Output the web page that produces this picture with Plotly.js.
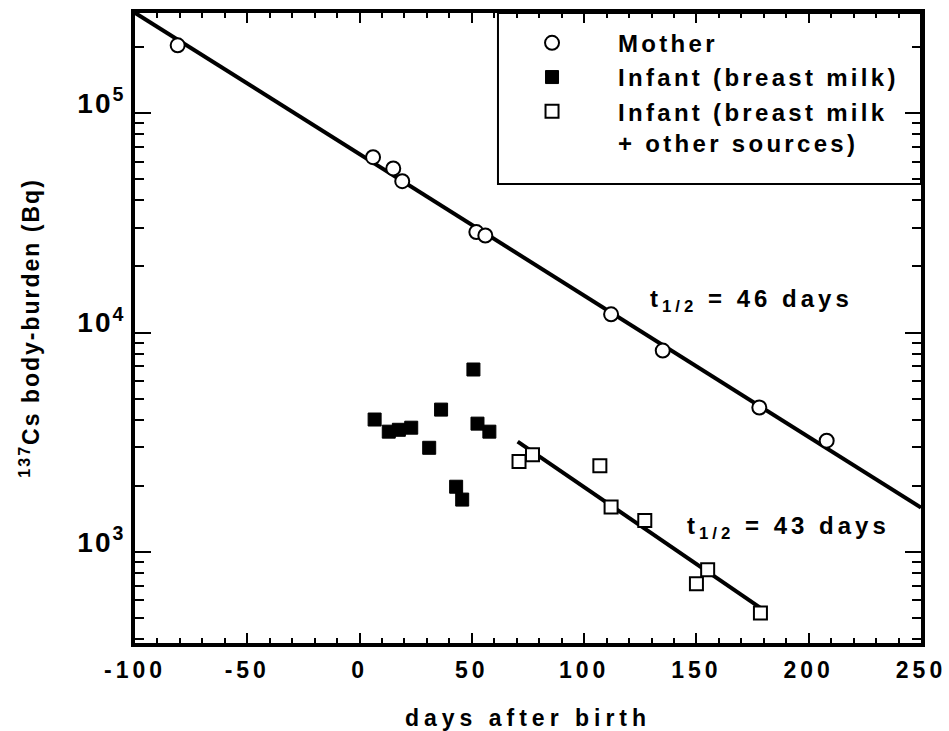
<!DOCTYPE html>
<html>
<head>
<meta charset="utf-8">
<script src="https://cdn.plot.ly/plotly-3.0.1.min.js"></script>
<style>
  body { margin: 0; background: #fff; }
  #chart { width: 949px; height: 731px; }
  .xtick text { letter-spacing: 4px; }
  .ytick text { letter-spacing: 2px; }
  .g-xtitle text { letter-spacing: 5px; }
  .g-ytitle text { letter-spacing: 2px; }
  .legendtext { letter-spacing: 3.3px; }
  .annotation-text { letter-spacing: 4px; }
</style>
</head>
<body>
<div id="chart"></div>
<script>
// ---- data ----
const motherDays = [-81, 6, 15, 19, 52, 56, 112, 135, 178, 208];
const motherBq   = [204000, 63000, 56000, 49000, 28700, 27700, 12100, 8270, 4550, 3210];

const infantMilkDays = [6.7, 13, 17.5, 23, 31, 36.3, 43, 45.7, 50.7, 52.5, 57.8];
const infantMilkBq   = [4010, 3530, 3600, 3680, 2980, 4450, 1980, 1730, 6780, 3840, 3530];

const infantOtherDays = [71, 77, 107, 112, 127, 150, 155, 178.5];
const infantOtherBq   = [2580, 2770, 2470, 1600, 1390, 714, 828, 526];

const motherFitDays = [-100, 250];
const motherFitBq   = [287000, 1590];
const infantFitDays = [70.4, 178.5];
const infantFitBq   = [3180, 555];

const xTickVals = [-100, -50, 0, 50, 100, 150, 200, 250];
const xTickText = ['-100', '-50', '0', '50', '100', '150', '200', '250'];
const yTickVals = [1e3, 1e4, 1e5];
const yTickText = ['10<sup>3</sup>', '10<sup>4</sup>', '10<sup>5</sup>'];

const legendNames = ['Mother', 'Infant (breast milk)', 'Infant (breast milk<br>+ other sources)'];
const halfLifeLabels = ['t<sub>1/2</sub> = 46 days', 't<sub>1/2</sub> = 43 days'];

// minor log ticks 2..9 per decade
const yMinor = [];
[100, 1000, 10000, 100000].forEach(d => { for (let k = 2; k <= 9; k++) yMinor.push(k * d); });

const FONT = 'Liberation Sans, Arial, Helvetica, sans-serif';

const traces = [
  { x: motherFitDays, y: motherFitBq, mode: 'lines', line: {color: '#000', width: 4}, showlegend: false, hoverinfo: 'skip' },
  { x: infantFitDays, y: infantFitBq, mode: 'lines', line: {color: '#000', width: 4}, showlegend: false, hoverinfo: 'skip' },
  { x: motherDays, y: motherBq, mode: 'markers', name: legendNames[0],
    marker: {symbol: 'circle', size: 14, color: '#fff', line: {color: '#000', width: 2}} },
  { x: infantMilkDays, y: infantMilkBq, mode: 'markers', name: legendNames[1],
    marker: {symbol: 'square', size: 13, color: '#000', line: {color: '#000', width: 1}} },
  { x: infantOtherDays, y: infantOtherBq, mode: 'markers', name: legendNames[2],
    marker: {symbol: 'square', size: 13, color: '#fff', line: {color: '#000', width: 2}} }
];

const layout = {
  width: 949, height: 731,
  margin: {l: 135, r: 28, t: 13, b: 88},
  paper_bgcolor: '#fff', plot_bgcolor: '#fff',
  font: {family: FONT, color: '#000', size: 22, weight: 'bold'},
  showlegend: true,
  legend: {
    x: 0.4466, y: 0.9877, xanchor: 'left', yanchor: 'top',
    bgcolor: 'rgba(0,0,0,0)', borderwidth: 0,
    font: {family: FONT, size: 24, color: '#000', weight: 'bold'},
    valign: 'top', itemwidth: 122
  },
  xaxis: {
    range: [-100, 250],
    tickmode: 'array', tickvals: xTickVals, ticktext: xTickText,
    ticks: 'inside', ticklen: 10, tickwidth: 2, tickcolor: '#000',
    minor: {dtick: 10, tick0: 0, ticks: 'inside', ticklen: 5, tickwidth: 2, tickcolor: '#000', showgrid: false},
    showline: true, linewidth: 4, linecolor: '#000', mirror: 'allticks',
    showgrid: false, zeroline: false,
    tickfont: {family: FONT, size: 23, weight: 'bold'},
    ticklabelstandoff: 3,
    title: {text: 'days after birth', font: {family: FONT, size: 23, weight: 'bold'}, standoff: 34}
  },
  yaxis: {
    type: 'log', range: [2.584, 5.457],
    tickmode: 'array', tickvals: yTickVals, ticktext: yTickText,
    ticks: 'inside', ticklen: 16, tickwidth: 2, tickcolor: '#000',
    minor: {tickmode: 'array', tickvals: yMinor, ticks: 'inside', ticklen: 9, tickwidth: 2, tickcolor: '#000', showgrid: false},
    showline: true, linewidth: 4, linecolor: '#000', mirror: 'allticks',
    showgrid: false, zeroline: false,
    tickfont: {family: FONT, size: 28, weight: 'bold'},
    ticklabelshift: -10,
    title: {text: '<sup>137</sup>Cs body-burden (Bq)', font: {family: FONT, size: 23, weight: 'bold'}, standoff: 32}
  },
  shapes: [
    {type: 'rect', xref: 'paper', yref: 'paper', x0: 0.4618, x1: 1, y0: 0.7286, y1: 1,
     line: {color: '#000', width: 2}, fillcolor: 'rgba(0,0,0,0)', layer: 'above'}
  ],
  annotations: [
    {xref: 'paper', yref: 'paper', x: 0.6527, y: 0.544, xanchor: 'left', yanchor: 'middle',
     text: halfLifeLabels[0], showarrow: false, font: {family: FONT, size: 24, weight: 'bold'}},
    {xref: 'paper', yref: 'paper', x: 0.6997, y: 0.184, xanchor: 'left', yanchor: 'middle',
     text: halfLifeLabels[1], showarrow: false, font: {family: FONT, size: 24, weight: 'bold'}}
  ]
};

Plotly.newPlot('chart', traces, layout, {staticPlot: true, displayModeBar: false});
</script>
</body>
</html>
